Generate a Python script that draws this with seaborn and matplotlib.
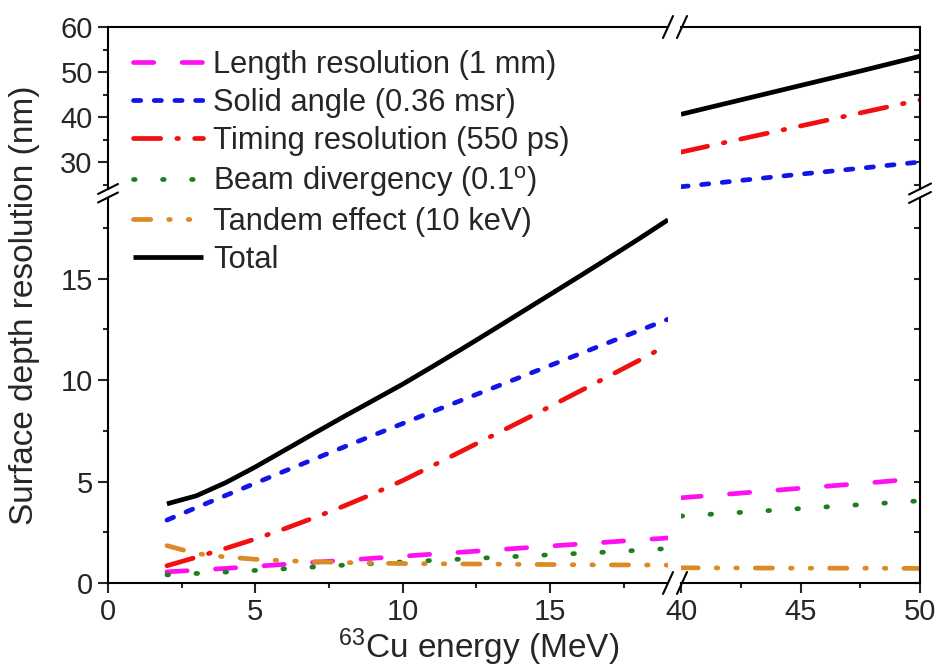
import numpy as np
import pandas as pd
import seaborn as sns
import matplotlib
matplotlib.use("Agg")
import matplotlib.pyplot as plt
from matplotlib.lines import Line2D

# ---- data -------------------------------------------------------------
energy_low = [2, 3, 4, 5, 6, 7, 8, 9, 10, 11, 12, 13, 14, 15, 16, 17, 18, 19]
energy_high = [40, 42.5, 45, 47.5, 50]

length_low = [0.55, 0.63, 0.72, 0.82, 0.92, 1.02, 1.12, 1.22, 1.32, 1.42,
              1.52, 1.62, 1.72, 1.82, 1.92, 2.02, 2.12, 2.22]
length_high = [4.20, 4.43, 4.67, 4.90, 5.15]

solid_low = [3.10, 3.72, 4.32, 4.92, 5.52, 6.11, 6.70, 7.28, 7.86, 8.44,
             9.01, 9.58, 10.15, 10.72, 11.29, 11.86, 12.43, 13.00]
solid_high = [24.5, 25.9, 27.3, 28.6, 30.0]

timing_low = [0.85, 1.27, 1.71, 2.17, 2.68, 3.22, 3.79, 4.40, 5.05, 5.77,
              6.50, 7.23, 7.96, 8.70, 9.45, 10.20, 10.96, 11.74]
timing_high = [32.2, 35.1, 38.0, 40.9, 43.8]

beam_low = [0.40, 0.47, 0.54, 0.62, 0.70, 0.79, 0.88, 0.96, 1.04, 1.11,
            1.18, 1.25, 1.32, 1.39, 1.46, 1.53, 1.61, 1.70]
beam_high = [3.30, 3.48, 3.67, 3.86, 4.05]

tandem_low = [1.84, 1.45, 1.28, 1.17, 1.10, 1.05, 1.01, 0.98, 0.96, 0.95,
              0.94, 0.93, 0.92, 0.91, 0.90, 0.89, 0.89, 0.88]
tandem_high = [0.75, 0.74, 0.73, 0.73, 0.72]

total_low = [3.90, 4.30, 4.95, 5.72, 6.55, 7.38, 8.20, 9.00, 9.80, 10.66,
             11.53, 12.42, 13.32, 14.22, 15.12, 16.03, 16.95, 17.90]
total_high = [40.6, 43.8, 47.0, 50.2, 53.5]

labels = ["Length resolution (1 mm)",
          "Solid angle (0.36 msr)",
          "Timing resolution (550 ps)",
          r"Beam divergency (0.1$^\mathrm{o}$)",
          "Tandem effect (10 keV)",
          "Total"]
x_label = r"$^{63}$Cu energy (MeV)"
y_label = "Surface depth resolution (nm)"

# ---- styling ----------------------------------------------------------
sns.set_style("white")
plt.rcParams["font.family"] = ["Liberation Sans", "DejaVu Sans"]
plt.rcParams["mathtext.fontset"] = "custom"
plt.rcParams["mathtext.rm"] = "Liberation Sans"
plt.rcParams["mathtext.it"] = "Liberation Sans:italic"
plt.rcParams["mathtext.default"] = "regular"
plt.rcParams["lines.scale_dashes"] = False

LW = 3.4
styles = [
    dict(color="#FF10F0", linestyle=(0, (14.6, 20.4))),
    dict(color="#1414E6", linestyle=(0, (5.2, 9.7))),
    dict(color="#F01010", linestyle=(0, (19.6, 11.6, 1.2, 11.6))),
    dict(color="#1C7F1C", linestyle=(0, (1.2, 19.7))),
    dict(color="#DB8A26", linestyle=(0, (12.4, 12.9, 1.2, 12.9, 1.2, 12.9))),
    dict(color="#000000", linestyle="-"),
]
series_low = [length_low, solid_low, timing_low, beam_low, tandem_low, total_low]
series_high = [length_high, solid_high, timing_high, beam_high, tandem_high, total_high]

W, H = 938, 668
fig = plt.figure(figsize=(W / 100, H / 100), dpi=100)


def fx(px):
    return px / W


def fy(py):
    return 1 - py / H


# pixel frame of the broken axes
xl0, xl1 = 108, 668      # left x segment  (0 .. 19 MeV)
xr0, xr1 = 681, 920      # right x segment (40 .. 50 MeV)
yt0, yt1 = 27, 189       # upper y segment (24 .. 60 nm)
yb0, yb1 = 197.5, 583    # lower y segment (0 .. 19 nm)

axBL = fig.add_axes([fx(xl0), fy(yb1), (xl1 - xl0) / W, (yb1 - yb0) / H])
axBR = fig.add_axes([fx(xr0), fy(yb1), (xr1 - xr0) / W, (yb1 - yb0) / H])
axTL = fig.add_axes([fx(xl0), fy(yt1), (xl1 - xl0) / W, (yt1 - yt0) / H])
axTR = fig.add_axes([fx(xr0), fy(yt1), (xr1 - xr0) / W, (yt1 - yt0) / H])

for ax in (axBL, axTL):
    ax.set_xlim(0, 19)
for ax in (axBR, axTR):
    ax.set_xlim(40, 50)
for ax in (axBL, axBR):
    ax.set_ylim(0, 19)
for ax in (axTL, axTR):
    ax.set_ylim(24, 60)

handles = []
for i, (lo, hi, st) in enumerate(zip(series_low, series_high, styles)):
    for ax in (axBL, axTL):
        sns.lineplot(x=energy_low, y=lo, ax=ax, lw=LW, dash_capstyle="round",
                     solid_capstyle="butt", legend=False, **st)
    for ax in (axBR, axTR):
        sns.lineplot(x=energy_high, y=hi, ax=ax, lw=LW, dash_capstyle="round",
                     solid_capstyle="butt", legend=False, **st)
    handles.append(Line2D([], [], lw=LW, dash_capstyle="round",
                          solid_capstyle="butt", **st))

SPW = 1.5
for ax in (axBL, axBR, axTL, axTR):
    ax.set_xlabel("")
    ax.set_ylabel("")
    ax.set_facecolor("none")
    for s in ax.spines.values():
        s.set_visible(False)
        s.set_linewidth(SPW)
        s.set_color("black")

axBL.spines["left"].set_visible(True)
axBL.spines["bottom"].set_visible(True)
axBR.spines["bottom"].set_visible(True)
axBR.spines["right"].set_visible(True)
axTL.spines["left"].set_visible(True)
axTL.spines["top"].set_visible(True)
axTR.spines["top"].set_visible(True)
axTR.spines["right"].set_visible(True)

# ticks
axBL.set_xticks([0, 5, 10, 15])
axBL.set_xticks([2.5, 7.5, 12.5, 17.5], minor=True)
axBR.set_xticks([40, 45, 50])
axBR.set_xticks([42.5, 47.5], minor=True)
for ax in (axBL, axBR):
    ax.set_yticks([0, 5, 10, 15])
    ax.set_yticks([2.5, 7.5, 12.5, 17.5], minor=True)
for ax in (axTL, axTR):
    ax.set_yticks([30, 40, 50, 60])
    ax.set_yticks([25, 35, 45, 55], minor=True)
    ax.set_xticks([])

TICK_FS = 21
for ax in (axBL, axBR):
    ax.tick_params(axis="x", which="major", direction="out", length=7, width=SPW,
                   labelsize=TICK_FS, pad=4, top=False, bottom=True)
    ax.tick_params(axis="x", which="minor", direction="out", length=3.8, width=SPW,
                   top=False, bottom=True)

for ax in (axBL, axTL):
    ax.tick_params(axis="y", which="major", direction="out", length=7, width=SPW,
                   labelsize=TICK_FS, pad=4, left=True, right=False)
    ax.tick_params(axis="y", which="minor", direction="out", length=3.8, width=SPW,
                   left=True, right=False)

for ax in (axBR, axTR):
    ax.tick_params(axis="y", which="both", direction="in", length=4, width=SPW,
                   left=False, right=True, labelleft=False, labelright=False)

axTL.tick_params(axis="x", which="both", bottom=False, top=False, labelbottom=False)
axTR.tick_params(axis="x", which="both", bottom=False, top=False, labelbottom=False)

# break marks on the frame
def slash(cx, cy, dx, dy):
    fig.add_artist(Line2D([fx(cx - dx), fx(cx + dx)], [fy(cy + dy), fy(cy - dy)],
                          transform=fig.transFigure, color="black", lw=SPW))

for cx in (668, 682):
    slash(cx, yb1, 5, 11)
    slash(cx, yt0, 5, 11)
for cy in (189, 197.5):
    slash(xl0, cy, 10, 5)
    slash(xr1, cy, 11, 5.5)

# legend spanning the broken y range
fig.legend(handles, labels, loc="upper left", bbox_to_anchor=(fx(133), fy(50)),
           bbox_transform=fig.transFigure, frameon=False, fontsize=22.2,
           handlelength=2.27, handletextpad=0.32, labelspacing=0.26,
           borderpad=0, borderaxespad=0)

fig.text(fx(479), fy(658), x_label, ha="center", va="baseline", fontsize=24)
fig.text(fx(25), fy(305), y_label, ha="center", va="center", rotation=90,
         fontsize=24)

fig.savefig("out.png", dpi=100)
